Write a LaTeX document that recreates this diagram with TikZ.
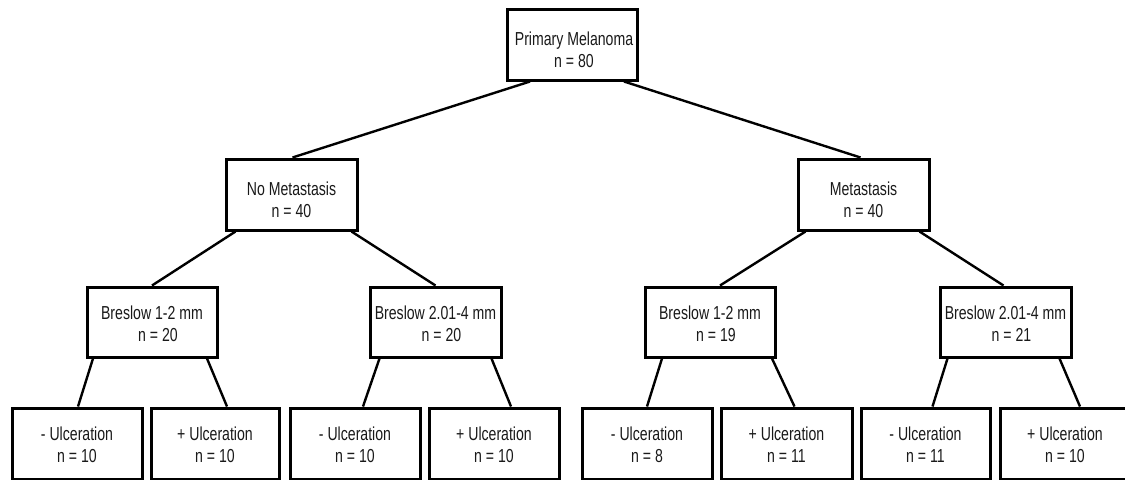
\documentclass[tikz,border=0pt]{standalone}
\usepackage{fontspec}
\setmainfont{Liberation Sans}[FakeStretch=0.75]
\usetikzlibrary{calc}
\begin{document}
\begin{tikzpicture}[x=0.5pt,y=-0.5pt,
  box/.style={draw=black,line width=1.5pt,rectangle,inner sep=0pt,minimum height=35.5pt},
  wbox/.style={box,minimum width=65pt},
  txt/.style={align=center,inner sep=0pt,font=\fontsize{9.4pt}{11pt}\selectfont,text=black!90},
  conn/.style={line width=1.2pt,black}]
\useasboundingbox (0,0) rectangle (1125,479);
\clip (0,0) rectangle (1125,479);
% boxes
\node[box,minimum width=65pt] (root) at (572,44.5) {};
\node[box,minimum width=65.5pt] (nomet) at (291.5,194.5) {};
\node[box,minimum width=65.5pt] (met) at (863.5,194.5) {};
\node[box,minimum width=65pt,minimum height=35pt] (b1l) at (152,322) {};
\node[box,minimum width=65.5pt,minimum height=35pt] (b2l) at (435.5,322) {};
\node[box,minimum width=65pt,minimum height=35pt] (b1r) at (710,322) {};
\node[box,minimum width=65.5pt,minimum height=35pt] (b2r) at (1005.5,322) {};
\node[wbox] (u1) at (77,443.5) {};
\node[box,minimum width=64pt] (u2) at (215,443.5) {};
\node[wbox] (u3) at (355,443.5) {};
\node[wbox] (u4) at (494,443.5) {};
\node[wbox] (u5) at (647,443.5) {};
\node[box,minimum width=65.5pt] (u6) at (786.5,443.5) {};
\node[box,minimum width=64.5pt] (u7) at (925.5,443.5) {};
\node[wbox] (u8) at (1065,443.5) {};
% texts
\node[txt] (roott) at ($(root)+(2,5)$) {Primary Melanoma\\n = 80};
\node[txt] (nomett) at ($(nomet)+(0,5)$) {No Metastasis\\n = 40};
\node[txt] (mett) at ($(met)+(0,5)$) {Metastasis\\n = 40};
\node[txt] (b1lt) at ($(b1l)+(0,1.5)$) {Breslow 1-2 mm\\\hspace*{6pt}n = 20};
\node[txt] (b2lt) at ($(b2l)+(0,1.5)$) {Breslow 2.01-4 mm\\\hspace*{6pt}n = 20};
\node[txt] (b1rt) at ($(b1r)+(0,1.5)$) {Breslow 1-2 mm\\\hspace*{6pt}n = 19};
\node[txt] (b2rt) at ($(b2r)+(0,1.5)$) {Breslow 2.01-4 mm\\\hspace*{6pt}n = 21};
\node[txt] (u1t) at ($(u1)+(0,1)$) {- Ulceration\\n = 10};
\node[txt] (u2t) at ($(u2)+(0,1)$) {+ Ulceration\\n = 10};
\node[txt] (u3t) at ($(u3)+(0,1)$) {- Ulceration\\n = 10};
\node[txt] (u4t) at ($(u4)+(0,1)$) {+ Ulceration\\n = 10};
\node[txt] (u5t) at ($(u5)+(0,1)$) {- Ulceration\\n = 8};
\node[txt] (u6t) at ($(u6)+(0,1)$) {+ Ulceration\\n = 11};
\node[txt] (u7t) at ($(u7)+(0,1)$) {- Ulceration\\n = 11};
\node[txt] (u8t) at ($(u8)+(0,1)$) {+ Ulceration\\n = 10};
% connectors
\draw[conn] ($(root.south)+(-42,0)$) -- ($(nomet.north)+(1,0)$);
\draw[conn] ($(root.south)+(52,0)$) -- ($(met.north)+(-3,0)$);
\draw[conn] ($(nomet.south)+(-56,0)$) -- (b1l.north);
\draw[conn] ($(nomet.south)+(60,0)$) -- (b2l.north);
\draw[conn] ($(met.south)+(-58,0)$) -- ($(b1r.north)+(10,0)$);
\draw[conn] ($(met.south)+(56,0)$) -- ($(b2r.north)+(-2,0)$);
\draw[conn] ($(b1l.south)+(-59,0)$) -- ($(u1.north)+(1,0)$);
\draw[conn] ($(b1l.south)+(55,0)$) -- ($(u2.north)+(12,0)$);
\draw[conn] ($(b2l.south)+(-56,0)$) -- ($(u3.north)+(8,0)$);
\draw[conn] ($(b2l.south)+(56,0)$) -- ($(u4.north)+(17,0)$);
\draw[conn] ($(b1r.south)+(-48,0)$) -- ($(u5.north)+(0,0)$);
\draw[conn] ($(b1r.south)+(62,0)$) -- ($(u6.north)+(8,0)$);
\draw[conn] ($(b2r.south)+(-58,0)$) -- ($(u7.north)+(7,0)$);
\draw[conn] ($(b2r.south)+(54,0)$) -- ($(u8.north)+(15,0)$);
\end{tikzpicture}
\end{document}
